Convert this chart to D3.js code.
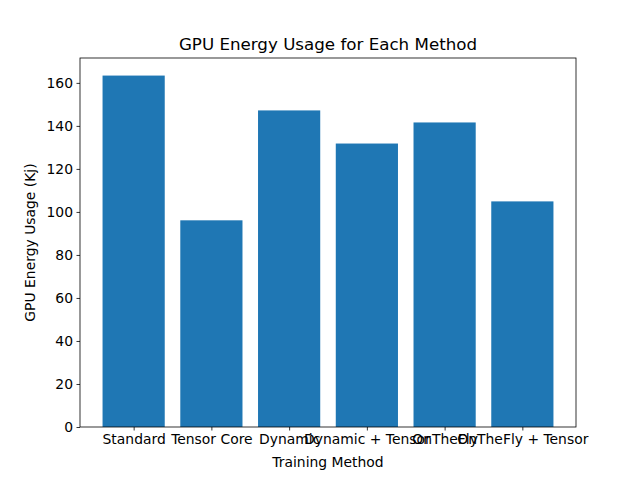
<!DOCTYPE html>
<meta charset="utf-8">
<style>
body{ margin:0; background:#fff; }
svg text{ font-family:"DejaVu Sans", sans-serif; fill:#000; }
.tick line{ stroke:#000; stroke-width:0.8px; }
.domain{ display:none; }
</style>
<body>
<script src="https://d3js.org/d3.v7.min.js"></script>
<script>
var methods = ["Standard", "Tensor Core", "Dynamic", "Dynamic + Tensor", "OnTheFly", "OnTheFly + Tensor"];
var energy = [163.4, 96.1, 147.2, 131.8, 141.6, 104.9];
var yTicks = [0, 20, 40, 60, 80, 100, 120, 140, 160];

var W = 640, H = 480, m = {l:80, r:64, t:58, b:53};
var iw = W - m.l - m.r, ih = H - m.t - m.b;

var svg = d3.select("body").append("svg").attr("width", W).attr("height", H);
var g = svg.append("g").attr("transform", "translate(" + m.l + "," + m.t + ")");

// matplotlib-like linear x: bars at 0..n-1, width 0.8, 5% margins
var n = methods.length, pad = (n - 1 + 0.8) * 0.05;
var x = d3.scaleLinear().domain([-0.4 - pad, n - 1 + 0.4 + pad]).range([0, iw]);
var y = d3.scaleLinear().domain([0, d3.max(energy) * 1.05]).range([ih, 0]);

g.selectAll("rect.bar").data(energy).enter().append("rect")
  .attr("class", "bar")
  .attr("x", function(d, i){ return x(i - 0.4); })
  .attr("width", function(){ return x(0.4) - x(-0.4); })
  .attr("y", function(d){ return y(d); })
  .attr("height", function(d){ return ih - y(d); })
  .attr("fill", "#1f77b4");

var xa = g.append("g").attr("transform", "translate(0," + ih + ")")
  .call(d3.axisBottom(x).tickValues(d3.range(n)).tickFormat(function(i){ return methods[i]; }).tickSize(3.5).tickPadding(3.5));
var ya = g.append("g")
  .call(d3.axisLeft(y).tickValues(yTicks).tickFormat(d3.format("d")).tickSize(3.5).tickPadding(3.5));
[xa, ya].forEach(function(a){ a.selectAll("text").style("font-size", "13.9px").attr("font-family", null); });

g.append("rect").attr("width", iw).attr("height", ih)
  .attr("fill", "none").attr("stroke", "#000").attr("stroke-width", 0.8);

svg.append("text").attr("x", m.l + iw / 2).attr("y", m.t - 8)
  .attr("text-anchor", "middle").style("font-size", "16.7px").text("GPU Energy Usage for Each Method");
svg.append("text").attr("x", m.l + iw / 2).attr("y", H - 13)
  .attr("text-anchor", "middle").style("font-size", "13.9px").text("Training Method");
svg.append("text").attr("transform", "translate(35," + (m.t + ih / 2) + ") rotate(-90)")
  .attr("text-anchor", "middle").style("font-size", "13.9px").text("GPU Energy Usage (Kj)");
</script>
</body>
